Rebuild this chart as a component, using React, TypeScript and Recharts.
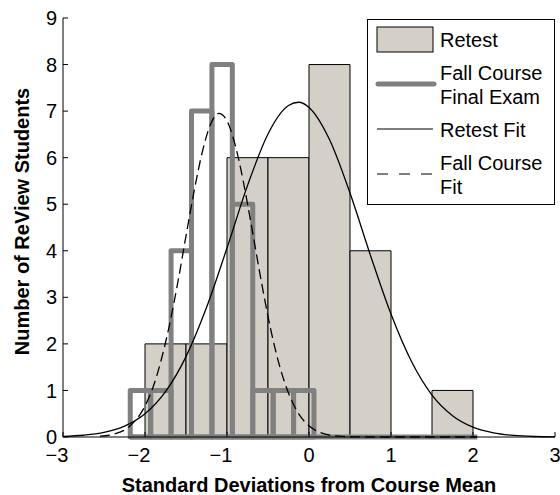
import { ComposedChart, Line, XAxis, YAxis, ReferenceArea, ReferenceLine } from 'recharts'

const font = '"Liberation Sans", Arial, Helvetica, sans-serif'
const retestFill = '#d4d0c8'
const fallGray = '#808080'

const xTicks = [-3, -2, -1, 0, 1, 2, 3]
const yTicks = [0, 1, 2, 3, 4, 5, 6, 7, 8, 9]

// retest histogram, bin edges + counts
const retestEdges = [-2, -1.5, -1, -0.5, 0, 0.5, 1, 1.5, 2]
const retestCounts = [2, 2, 6, 6, 8, 4, 0, 1]

// fall course final exam histogram
const fallEdges = [-2.18, -1.931, -1.682, -1.433, -1.184, -0.935, -0.686, -0.437, -0.188, 0.061, 0.31, 0.559, 0.808, 1.057, 1.306, 1.555, 1.804, 2.053]
const fallCounts = [1, 1, 4, 7, 8, 5, 1, 1, 1, 0, 0, 0, 0, 0, 0, 0, 0]

// fitted curves
const retestFitX = [-3, -2.75, -2.5, -2.25, -2, -1.75, -1.5, -1.25, -1, -0.75, -0.5, -0.25, -0.125, 0, 0.25, 0.5, 0.75, 1, 1.25, 1.5, 1.75, 2, 2.25, 2.5, 2.75, 3]
const retestFitY = [0.013, 0.038, 0.098, 0.232, 0.498, 0.973, 1.726, 2.78, 4.06, 5.4, 6.51, 7.12, 7.19, 7.08, 6.39, 5.24, 3.9, 2.64, 1.62, 0.9, 0.457, 0.21, 0.088, 0.033, 0.011, 0.004]

const fallFitX = [-2.55, -2.4, -2.2, -2.0, -1.9, -1.8, -1.7, -1.6, -1.5, -1.4, -1.3, -1.2, -1.1, -1.0, -0.9, -0.8, -0.7, -0.6, -0.5, -0.4, -0.3, -0.2, -0.1, 0, 0.2, 0.4, 0.7, 1.0, 1.5, 2.05]
const fallFitY = [0.017, 0.054, 0.211, 0.665, 1.08, 1.67, 2.42, 3.32, 4.32, 5.29, 6.13, 6.72, 6.95, 6.79, 6.27, 5.48, 4.52, 3.52, 2.59, 1.8, 1.19, 0.74, 0.43, 0.24, 0.06, 0.013, 0, 0, 0, 0]

const retestFit = retestFitX.map((x, i) => ({ x, y: retestFitY[i] }))
const fallFit = fallFitX.map((x, i) => ({ x, y: fallFitY[i] }))

// matlab-style labels: minus sign, negative labels sit a bit to the left
function XTick({ x, y, payload }: any) {
  const v = payload.value
  const s = v < 0 ? '\u2212' + Math.abs(v) : String(v)
  return (
    <text x={x + (v < 0 ? -6 : 0)} y={y + 14} textAnchor="middle" fontFamily={font} fontSize={20} fill="#000">
      {s}
    </text>
  )
}

function YTitle({ viewBox }: any) {
  const cy = viewBox.y + viewBox.height / 2 - 6
  return (
    <text x={29} y={cy} transform={`rotate(-90, 29, ${cy})`} textAnchor="middle"
      fontFamily={font} fontSize={20} fontWeight="bold" fill="#000">
      Number of ReView Students
    </text>
  )
}

function XTitle({ viewBox }: any) {
  return (
    <text x={viewBox.x + viewBox.width / 2} y={492} textAnchor="middle"
      fontFamily={font} fontSize={20} fontWeight="bold" fill="#000">
      Standard Deviations from Course Mean
    </text>
  )
}

function LegendBox() {
  const txt = { position: 'absolute' as const, left: 72, fontSize: 20, lineHeight: '24px', color: '#000', whiteSpace: 'nowrap' as const }
  return (
    <div style={{ position: 'absolute', left: 367, top: 19, width: 188, height: 186, boxSizing: 'border-box', border: '1px solid #000', background: '#fff', fontFamily: font }}>
      <svg width={188} height={186} style={{ position: 'absolute', left: -1, top: -1 }}>
        <rect x={10} y={8} width={56} height={25} fill={retestFill} stroke="#000" strokeWidth={1} />
        <line x1={11} x2={67} y1={65} y2={65} stroke={fallGray} strokeWidth={5} strokeLinecap="round" />
        <line x1={10} x2={66} y1={110} y2={110} stroke="#000" strokeWidth={1.2} />
        <line x1={10} x2={66} y1={155} y2={155} stroke="#000" strokeWidth={1.2} strokeDasharray="11 11" />
      </svg>
      <div style={{ ...txt, top: 8 }}>Retest</div>
      <div style={{ ...txt, top: 41 }}>Fall Course<br />Final Exam</div>
      <div style={{ ...txt, top: 98 }}>Retest Fit</div>
      <div style={{ ...txt, top: 131 }}>Fall Course<br />Fit</div>
    </div>
  )
}

export default function App() {
  return (
    <div style={{ position: 'absolute', left: 0, top: 0, width: 560, height: 495, background: '#fff' }}>
      <ComposedChart width={560} height={495} margin={{ top: 18, right: 5, left: 0, bottom: 0 }}>
        <XAxis dataKey="x" type="number" domain={[-3, 3]} ticks={xTicks} height={58}
          tickSize={-5} tickMargin={16} interval={0}
          axisLine={{ stroke: '#000' }} tickLine={{ stroke: '#000' }}
          tick={<XTick />} label={<XTitle />} />
        <XAxis xAxisId="top" orientation="top" type="number" domain={[-3, 3]} ticks={xTicks}
          height={0} tickSize={-5} tick={false} axisLine={{ stroke: '#000' }} tickLine={{ stroke: '#000' }} />
        <YAxis type="number" domain={[0, 9]} ticks={yTicks} width={63} interval={0}
          tickSize={-5} tickMargin={11}
          axisLine={{ stroke: '#000' }} tickLine={{ stroke: '#000' }}
          tick={{ fill: '#000', fontSize: 20, fontFamily: font }}
          label={<YTitle />} />
        <YAxis yAxisId="right" orientation="right" type="number" domain={[0, 9]} ticks={yTicks}
          width={0} tickSize={-5} tick={false} axisLine={{ stroke: '#000' }} tickLine={{ stroke: '#000' }} />

        {retestCounts.map((c, i) => c > 0 && (
          <ReferenceArea key={'r' + i} x1={retestEdges[i]} x2={retestEdges[i + 1]} y1={0} y2={c}
            fill={retestFill} fillOpacity={1} stroke="#000" strokeWidth={1} ifOverflow="visible" />
        ))}
        <ReferenceLine segment={[{ x: fallEdges[0], y: 0 }, { x: fallEdges[fallEdges.length - 1], y: 0 }]}
          stroke={fallGray} strokeWidth={5} ifOverflow="visible" />
        {fallCounts.map((c, i) => c > 0 && (
          <ReferenceArea key={'f' + i} x1={fallEdges[i]} x2={fallEdges[i + 1]} y1={0} y2={c}
            fill="none" stroke={fallGray} strokeWidth={5} strokeLinejoin="round" ifOverflow="visible" />
        ))}

        <Line data={retestFit} dataKey="y" type="monotone" stroke="#000" strokeWidth={1.3}
          dot={false} activeDot={false} isAnimationActive={false} />
        <Line data={fallFit} dataKey="y" type="monotone" stroke="#000" strokeWidth={1.3}
          strokeDasharray="10 5" dot={false} activeDot={false} isAnimationActive={false} />
      </ComposedChart>
      <LegendBox />
    </div>
  )
}
